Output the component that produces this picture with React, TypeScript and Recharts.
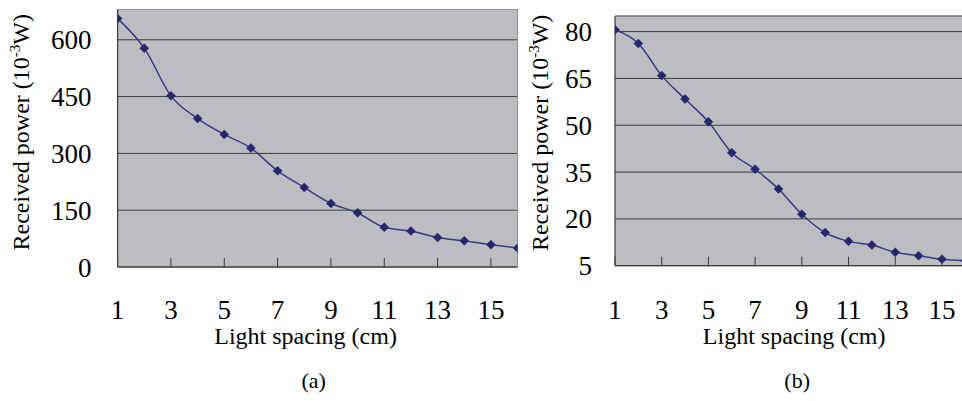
import React from 'react';
import { LineChart, Line, XAxis, YAxis, CartesianGrid, ReferenceLine } from 'recharts';

// ---- data ----
const spacingCm = [1, 2, 3, 4, 5, 6, 7, 8, 9, 10, 11, 12, 13, 14, 15, 16];
const powerA = [656, 578, 452, 392, 350, 314, 254, 210, 168, 143, 105, 95, 78, 69, 59, 50];
const powerB = [80.6, 76.2, 65.9, 58.4, 51.1, 41.2, 35.9, 29.6, 21.5, 15.6, 12.8, 11.6, 9.3, 8.2, 7.1, 6.6];
const xTicks = [1, 3, 5, 7, 9, 11, 13, 15];
const yTicksA = [0, 150, 300, 450, 600];
const yTicksB = [5, 20, 35, 50, 65, 80];
const domainA = [0, 680];
const domainB = [5, 85];
const xTitle = 'Light spacing (cm)';
const yTitleHead = 'Received power (10';
const yTitleSup = '-3';
const yTitleTail = 'W)';
const captionA = '(a)';
const captionB = '(b)';

const dataA = spacingCm.map((x, i) => ({ x, v: powerA[i] }));
const dataB = spacingCm.map((x, i) => ({ x, v: powerB[i] }));

const FONT = '"Liberation Serif", "Times New Roman", serif';
const LINE = '#363a8c';
const MARK = '#25266e';
const PLOT_BG = '#bcbdc0';
const GRID = '#3c3c3c';
const AXIS = '#3a3a3a';
const BORDER = '#8e8e8e';

const Diamond = (props: any) => {
  const { cx, cy } = props;
  if (cx == null || cy == null) return null;
  const r = 4.5;
  return (
    <polygon
      points={`${cx},${cy - r} ${cx + r},${cy} ${cx},${cy + r} ${cx - r},${cy}`}
      fill={MARK}
      stroke={MARK}
      strokeWidth={0.5}
    />
  );
};

const makeXTick = (labelDy: number) => (props: any) => {
  const { x, y, payload } = props;
  return (
    <g>
      <line x1={x} x2={x} y1={y} y2={y - 9} stroke={AXIS} strokeWidth={1} />
      <text x={x} y={y + labelDy} textAnchor="middle" fontFamily={FONT} fontSize={27} fill="#000">
        {payload.value}
      </text>
    </g>
  );
};

const makeXLabel = (caption: string, dyTitle: number, dyCaption: number, dxTitle: number, dxCaption: number) => (
  props: any
) => {
  const vb = props.viewBox || {};
  const cx = vb.x + vb.width / 2;
  return (
    <g>
      <text x={cx + dxTitle} y={vb.y + dyTitle} textAnchor="middle" fontFamily={FONT} fontSize={24} fill="#000">
        {xTitle}
      </text>
      <text x={cx + dxCaption} y={vb.y + dyCaption} textAnchor="middle" fontFamily={FONT} fontSize={22} fill="#000">
        {caption}
      </text>
    </g>
  );
};

const makeYLabel = (bx: number, dyc: number) => (props: any) => {
  const vb = props.viewBox || {};
  const x = vb.x + bx;
  const y = vb.y + vb.height / 2 + dyc;
  return (
    <text
      x={x}
      y={y}
      transform={`rotate(-90 ${x} ${y})`}
      textAnchor="middle"
      fontFamily={FONT}
      fontSize={24}
      fill="#000"
    >
      <tspan>{yTitleHead}</tspan>
      <tspan dy={-9} fontSize={15}>{yTitleSup}</tspan>
      <tspan dy={9}>{yTitleTail}</tspan>
    </text>
  );
};

const Panel = (p: {
  data: any[];
  width: number;
  margin: any;
  yWidth: number;
  yTicks: number[];
  domain: number[];
  tickMargin: number;
  tickDy: number;
  titleDy: number;
  capDy: number;
  titleDx: number;
  capDx: number;
  caption: string;
  yTitleX: number;
  yTitleDy: number;
}) => (
  <LineChart width={p.width} height={401} data={p.data} margin={p.margin}>
    <CartesianGrid vertical={false} fill={PLOT_BG} stroke={GRID} strokeWidth={1} />
    <XAxis
      dataKey="x"
      type="number"
      domain={[1, 16]}
      ticks={xTicks}
      interval={0}
      allowDataOverflow
      height={30}
      tickLine={false}
      tickSize={0}
      tickMargin={0}
      axisLine={{ stroke: AXIS, strokeWidth: 1.2 }}
      tick={makeXTick(p.tickDy)}
      label={{ content: makeXLabel(p.caption, p.titleDy, p.capDy, p.titleDx, p.capDx) }}
    />
    <YAxis
      type="number"
      domain={p.domain}
      ticks={p.yTicks}
      interval={0}
      allowDataOverflow
      width={p.yWidth}
      tickLine={false}
      tickSize={0}
      tickMargin={p.tickMargin}
      axisLine={{ stroke: AXIS, strokeWidth: 1.2 }}
      tick={{ fontFamily: FONT, fontSize: 27, fill: '#000' }}
      label={{ content: makeYLabel(p.yTitleX, p.yTitleDy) }}
    />
    <ReferenceLine y={p.domain[1]} stroke={BORDER} strokeWidth={1} />
    <ReferenceLine x={16} stroke={BORDER} strokeWidth={1} />
    <Line
      type="monotone"
      dataKey="v"
      stroke={LINE}
      strokeWidth={1.5}
      dot={<Diamond />}
      activeDot={false}
      isAnimationActive={false}
    />
  </LineChart>
);

export default function App() {
  return (
    <div
      style={{
        position: 'absolute',
        left: 0,
        top: 0,
        width: 962,
        height: 401,
        overflow: 'hidden',
        background: '#fff',
      }}
    >
      <div style={{ position: 'absolute', left: 0, top: 0 }}>
        <Panel
          data={dataA}
          width={520}
          margin={{ top: 9.5, right: 2.4, bottom: 104, left: 0 }}
          yWidth={117.6}
          yTicks={yTicksA}
          domain={domainA}
          tickMargin={26}
          tickDy={52}
          titleDy={77}
          capDy={121}
          titleDx={-12}
          capDx={-4}
          caption={captionA}
          yTitleX={29}
          yTitleDy={-6}
        />
      </div>
      <div style={{ position: 'absolute', left: 520, top: 0 }}>
        <Panel
          data={dataB}
          width={460}
          margin={{ top: 16, right: 14.7, bottom: 105.3, left: 0 }}
          yWidth={95}
          yTicks={yTicksB}
          domain={domainB}
          tickMargin={23}
          tickDy={53}
          titleDy={78}
          capDy={122}
          titleDx={4}
          capDx={7}
          caption={captionB}
          yTitleX={28}
          yTitleDy={-8}
        />
      </div>
    </div>
  );
}
